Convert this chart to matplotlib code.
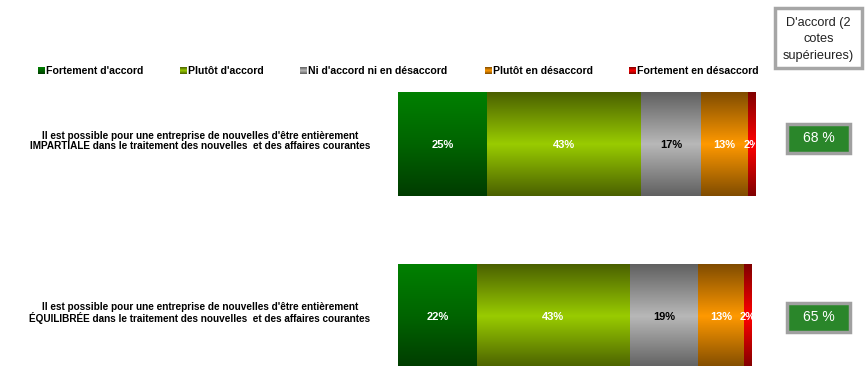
import numpy as np
import matplotlib
matplotlib.use("Agg")
import matplotlib.pyplot as plt
from matplotlib.colors import LinearSegmentedColormap
from matplotlib.patches import Rectangle
from matplotlib.transforms import blended_transform_factory

plt.rcParams['font.family'] = ['Liberation Sans', 'DejaVu Sans']

# ---- data ----
categories = ["Fortement d'accord", "Plutôt d'accord", "Ni d'accord ni en désaccord",
              "Plutôt en désaccord", "Fortement en désaccord"]
statements = [
    "Il est possible pour une entreprise de nouvelles d'être entièrement\n"
    "IMPARTIALE dans le traitement des nouvelles  et des affaires courantes",
    "Il est possible pour une entreprise de nouvelles d'être entièrement\n"
    "ÉQUILIBRÉE dans le traitement des nouvelles  et des affaires courantes",
]
impartiale = [25, 43, 17, 13, 2]
equilibree = [22, 43, 19, 13, 2]
agree_header = "D'accord (2\ncotes\nsupérieures)"

# vertical gradient stops (top -> bottom) for each answer category
gradients = [
    ["#008000", "#006400", "#003c00"],
    ["#4a6000", "#99cc00", "#4a6000"],
    ["#606060", "#b8b8b8", "#606060"],
    ["#804c00", "#ff9900", "#804c00"],
    ["#800000", "#ff0000", "#800000"],
]
label_colors = ["white", "white", "black", "white", "white"]

W, H = 868, 366
fig = plt.figure(figsize=(W / 100, H / 100), dpi=100)

def fx(px):
    return px / W

def fy(py):
    return 1 - py / H

# main plotting area
ax = fig.add_axes([fx(398), 0, (755 - 398) / W, (H - 90) / H])
ax.set_axis_off()

rows = [impartiale, equilibree]
bar_h = 0.6
cmaps = [LinearSegmentedColormap.from_list(f"g{k}", g) for k, g in enumerate(gradients)]
grad = np.linspace(0, 1, 256).reshape(-1, 1)

for i, vals in enumerate(rows):
    left = 0
    for k, v in enumerate(vals):
        bar = ax.barh(i, v, left=left, height=bar_h, color=gradients[k][1],
                      edgecolor='none')[0]
        x, y, w, h = bar.get_x(), bar.get_y(), bar.get_width(), bar.get_height()
        ax.imshow(grad, cmap=cmaps[k], aspect='auto', interpolation='bilinear',
                  extent=(x, x + w, y + h, y), zorder=2)
        ax.text(left + v / 2, i, f"{v}%", ha='center', va='center',
                color=label_colors[k], fontsize=8, fontweight='bold',
                zorder=3, clip_on=True)
        left += v

ax.set_xlim(0, 100)
ax.set_ylim((H - 144.5) / 172, (90 - 144.5) / 172)

# statement labels on the left
tr = blended_transform_factory(fig.transFigure, ax.transData)
for i, s in enumerate(statements):
    ax.text(fx(200), i - 0.02, s, transform=tr, ha='center', va='center',
            multialignment='center', fontsize=7.2, fontweight='bold',
            linespacing=1.0, clip_on=False)

# legend row
legend_x = [38, 180, 300, 485, 629]
for k, (name, lx) in enumerate(zip(categories, legend_x)):
    sq = fig.add_axes([fx(lx), fy(74), 7 / W, 7 / H])
    sq.imshow(grad, cmap=cmaps[k], aspect='auto', interpolation='bilinear')
    sq.set_axis_off()
    fig.text(fx(lx + 8), fy(70.5), name, ha='left', va='center',
             fontsize=7.6, fontweight='bold')

# agreement summary column
fig.patches.append(Rectangle((fx(775), fy(68)), (862 - 775) / W, 60 / H,
                             transform=fig.transFigure, facecolor='white',
                             edgecolor='#a6a6a6', linewidth=2.5))
fig.text(fx(818.5), fy(39.5), agree_header, ha='center', va='center',
         fontsize=9.2, linespacing=1.45, color='#222222')

box_centers = [138, 317]
for vals, cy in zip(rows, box_centers):
    top2 = vals[0] + vals[1]
    fig.patches.append(Rectangle((fx(787), fy(cy + 14.5)), 63 / W, 29 / H,
                                 transform=fig.transFigure, facecolor='#2a862a',
                                 edgecolor='#a0a0a0', linewidth=2.5))
    fig.text(fx(818.5), fy(cy), f"{top2} %", ha='center', va='center',
             fontsize=10, color='white')

fig.savefig("out.png", dpi=100)
